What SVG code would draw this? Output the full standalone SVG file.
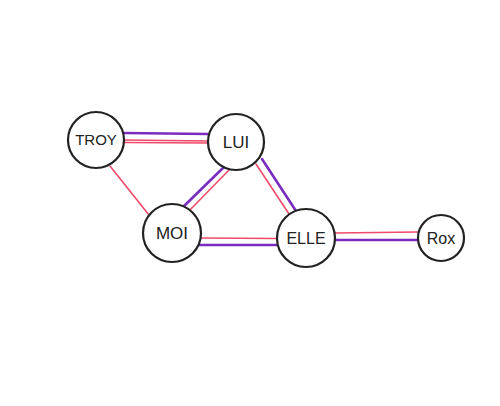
<svg xmlns="http://www.w3.org/2000/svg" width="500" height="406" viewBox="0 0 500 406">
<style>
.n{fill:#fff;stroke:#222;stroke-width:2.2}
.t{font-family:"Liberation Sans",Arial,sans-serif;font-size:15px;fill:#222;text-anchor:middle}
.p{stroke:#7b2cbf;stroke-width:2.6;fill:none;stroke-linecap:round}
.r{stroke:#f04a6a;stroke-width:1.6;fill:none;stroke-linecap:round}
</style>
<rect width="500" height="406" fill="#fff"/>
<g id="connectors">
<line class="p" x1="124" y1="133" x2="208" y2="134"/>
<line class="r" x1="124" y1="140" x2="208" y2="141"/>
<line class="r" x1="124" y1="142.5" x2="208" y2="143"/>
<line class="r" x1="110" y1="166" x2="149" y2="215"/>
<line class="p" x1="224" y1="167" x2="182" y2="208"/>
<line class="r" x1="230" y1="169" x2="188" y2="212"/>
<line class="p" x1="262" y1="159" x2="296" y2="211"/>
<line class="r" x1="256" y1="164" x2="289" y2="214"/>
<line class="r" x1="200" y1="238" x2="277" y2="238.5"/>
<line class="p" x1="200" y1="245" x2="277" y2="245"/>
<line class="r" x1="335" y1="233" x2="418" y2="232"/>
<line class="p" x1="335" y1="240" x2="418" y2="240"/>
</g>
<g id="troy"><circle class="n" cx="96" cy="140" r="28"/><text class="t" x="96" y="145">TROY</text></g>
<g id="lui"><circle class="n" cx="236" cy="142" r="28"/><text class="t" x="236" y="148" style="font-size:17px">LUI</text></g>
<g id="moi"><circle class="n" cx="172" cy="233" r="29"/><text class="t" x="172" y="239" style="font-size:17px">MOI</text></g>
<g id="elle"><circle class="n" cx="306" cy="238" r="29"/><text class="t" x="306" y="244" style="font-size:16px">ELLE</text></g>
<g id="rox"><circle class="n" cx="441" cy="238" r="23"/><text class="t" x="441" y="244" style="font-size:16px">Rox</text></g>
</svg>
